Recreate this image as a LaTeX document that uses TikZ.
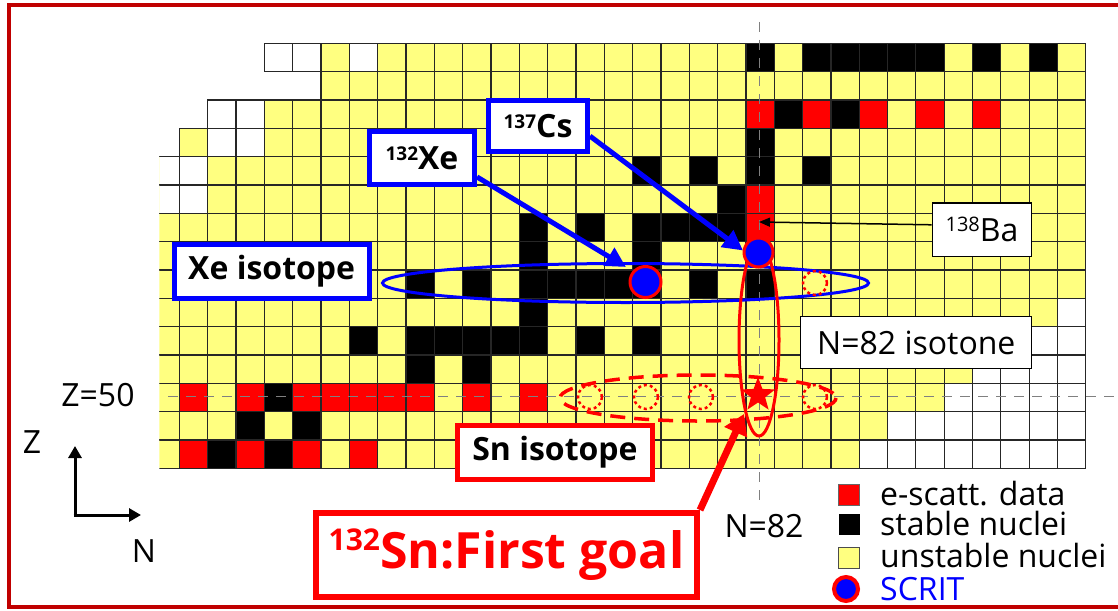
\documentclass[tikz,border=0pt]{standalone}
\usepackage{fontspec}
\setmainfont{Open Sans}
\usetikzlibrary{arrows.meta,shapes.geometric}
\definecolor{nucyellow}{RGB}{255,255,128}
\definecolor{framered}{RGB}{192,0,0}
\definecolor{dashgray}{RGB}{128,128,128}

% one cell of the nuclide chart: column, row, fill colour
\newcommand\cellat[3]{%
  \path[cellbox, fill=#3] ({179.3+28.33*(#1)},{43.3+28.33*(#2)}) rectangle ++(28.33,28.33);}

\tikzset{
  cellbox/.style={draw=black!85, line width=1.2pt},
  guide/.style={draw=dashgray, line width=1.5pt, dash pattern=on 10pt off 8pt},
  bluebox/.style={draw=blue, line width=5pt, fill=white, inner sep=0pt,
    font=\bfseries\fontsize{32}{36}\selectfont},
  redbox/.style={draw=red, line width=5pt, fill=white, inner sep=0pt,
    font=\bfseries\fontsize{32}{36}\selectfont},
  thinbox/.style={draw=black, line width=1.3pt, fill=white, inner sep=0pt,
    font=\fontsize{32}{36}\selectfont},
  plain/.style={inner sep=0pt, font=\fontsize{32}{36}\selectfont},
  scrit/.style={circle, fill=blue, draw=red, line width=3pt, inner sep=0pt, minimum size=31pt},
  blueptr/.style={draw=blue, line width=5pt, -{Triangle[length=20pt,width=20pt]}},
  dotring/.style={draw=red, line width=2.5pt, dash pattern=on 3pt off 3pt},
  axisarrow/.style={draw=black, line width=3pt, -{Triangle[length=12pt,width=13pt]}},
  legendsq/.style={inner sep=0pt, minimum size=21pt},
}

\begin{document}
\begin{tikzpicture}[x=1pt,y=-1pt]
\useasboundingbox (0,0) rectangle (1118,610);
\fill[white] (0,0) rectangle (1118,610);

% ---- chart cells (Z rows top to bottom, N columns left to right) ----
\begin{scope}
  \clip (159.3,0) rectangle (1118,610);
  \foreach \r/\a in {0/3,1/5,2/1,3/0,4/-1,5/-1,6/-1,7/-1,8/-1,9/-1,10/-1,11/-1,12/-1,13/-1,14/-1}
    \foreach \c in {\a,...,31} { \cellat{\c}{\r}{nucyellow} }
  % cells without data
  \foreach \c/\r in {3/0,4/0,6/0,1/2,2/2,1/3,2/3,-1/4,0/4,-1/5,0/5}
    { \cellat{\c}{\r}{white} }
  \foreach \r/\a in {9/31,10/29,11/28,12/27,13/25,14/24}
    \foreach \c in {\a,...,31} { \cellat{\c}{\r}{white} }
  % stable nuclei
  \foreach \c/\r in {20/0,22/0,23/0,24/0,25/0,26/0,28/0,30/0,
      21/2,23/2, 20/3, 16/4,18/4,20/4,22/4, 19/5,
      12/6,14/6,16/6,17/6,18/6,19/6, 12/7,16/7,
      8/8,10/8,12/8,13/8,14/8,15/8,16/8,18/8,20/8, 12/9,
      6/10,8/10,9/10,10/10,11/10,12/10,14/10,16/10, 8/11,10/11,
      3/12, 2/13,4/13, 1/14,3/14}
    { \cellat{\c}{\r}{black} }
  % electron scattering data
  \foreach \c/\r in {20/2,22/2,24/2,26/2,28/2, 20/5,20/6,
      0/12,2/12,4/12,5/12,6/12,7/12,8/12,10/12,12/12,
      0/14,2/14,4/14,6/14}
    { \cellat{\c}{\r}{red} }
\end{scope}

% ---- magic number guides ----
\coordinate (nTop) at (759.5,22);
\coordinate (nBot) at (759.5,506);
\coordinate (zLeft) at (168,396.5);
\coordinate (zRight) at (1118,396.5);
\draw[guide] (nTop) -- (nBot);
\draw[guide] (zLeft) -- (zRight);

% ---- isotope / isotone groupings ----
\draw[blue, line width=3pt] (625.5,283) ellipse [x radius=243, y radius=19.5];
\draw[red, line width=3.5pt, dash pattern=on 15pt off 9pt] (698,398) ellipse [x radius=138, y radius=23];
\foreach \x/\y in {590/397,646/397,701/397,815/397,815/283}
  \draw[dotring] (\x,\y) circle [radius=12];
\draw[red, line width=3pt] (759,340) ellipse [x radius=20, y radius=96];

% ---- SCRIT targets ----
\node[scrit] (xecirc) at (645.5,282) {};
\node[scrit, minimum size=29pt] (cscirc) at (758.5,252.5) {};
\node[star, star points=5, star point ratio=2.4, fill=red, inner sep=0pt, minimum size=36pt] (snstar) at (758,395) {};

% ---- labels ----
\node[bluebox, minimum width=99pt, minimum height=51pt] (csbox) at (538,126)
  {\raisebox{9pt}{\fontsize{19}{19}\selectfont 137}Cs};
\node[bluebox, minimum width=105pt, minimum height=53pt] (xebox) at (422,158)
  {\raisebox{9pt}{\fontsize{19}{19}\selectfont 132}Xe};
\node[bluebox, minimum width=195pt, minimum height=54pt] (xeiso) at (271.7,271.2) {Xe isotope};
\node[redbox, minimum width=195pt, minimum height=54pt] (sniso) at (555,452.5) {Sn isotope};
\node[redbox, line width=6pt, minimum width=381pt, minimum height=84pt, text=red,
  font=\bfseries\fontsize{50}{56}\selectfont] (goal) at (506.5,555)
  {\raisebox{18pt}{\fontsize{30}{30}\selectfont 132}Sn:First goal};
\node[thinbox, minimum width=99.5pt, minimum height=53.5pt] (babox) at (982,229.8)
  {\raisebox{10pt}{\fontsize{20}{20}\selectfont 138}Ba};
\node[thinbox, minimum width=231pt, minimum height=52pt] (isotone) at (916.3,342.5) {N=82 isotone};

\node[plain] (zfifty) at (98,395) {Z=50};
\node[plain] (nlabel) at (764,526) {N=82};

% ---- pointers ----
\coordinate (xetip) at (626,267);
\coordinate (cstip) at (743,250.5);
\coordinate (batip) at (759,222);
\coordinate (startip) at (744,414);
\draw[blueptr] (xebox.-19) -- (xetip);
\draw[blueptr] (csbox.-11) -- (cstip);
\draw[black, line width=1.5pt, -{Triangle[length=11pt,width=9pt]}] ([yshift=5pt]babox.west) -- (batip);
\draw[red, line width=7pt, -{Triangle[length=20pt,width=24pt]}] (goal.north east) -- (startip);

% ---- axis key ----
\coordinate (axo) at (75,515);
\coordinate (axz) at (75,446);
\coordinate (axn) at (141,515);
\draw[axisarrow] ([yshift=-1.5pt]axo) -- (axz);
\draw[axisarrow] ([xshift=-1.5pt]axo) -- (axn);
\node[plain] (zaxis) at (32,442) {Z};
\node[plain] (naxis) at (144,551) {N};

% ---- legend ----
\node[legendsq, fill=red, draw=black!60, line width=0.8pt] (lgred) at (849,494.7) {};
\node[legendsq, fill=black] (lgblack) at (849,524.7) {};
\node[legendsq, fill=nucyellow, draw=black!70, line width=1pt] (lgyel) at (849,557.8) {};
\node[scrit, line width=4pt, minimum size=24pt] (lgscrit) at (846,589) {};
\node[plain, anchor=west] (lgt1) at (880,494) {e-scatt. data};
\node[plain, anchor=west] (lgt2) at (880,523) {stable nuclei};
\node[plain, anchor=west] (lgt3) at (880,555) {unstable nuclei};
\node[plain, anchor=west, text=blue] (lgt4) at (880,589) {SCRIT};

% ---- frame ----
\draw[framered, line width=4.5pt] (9,5) rectangle (1124,607);
\end{tikzpicture}
\end{document}
